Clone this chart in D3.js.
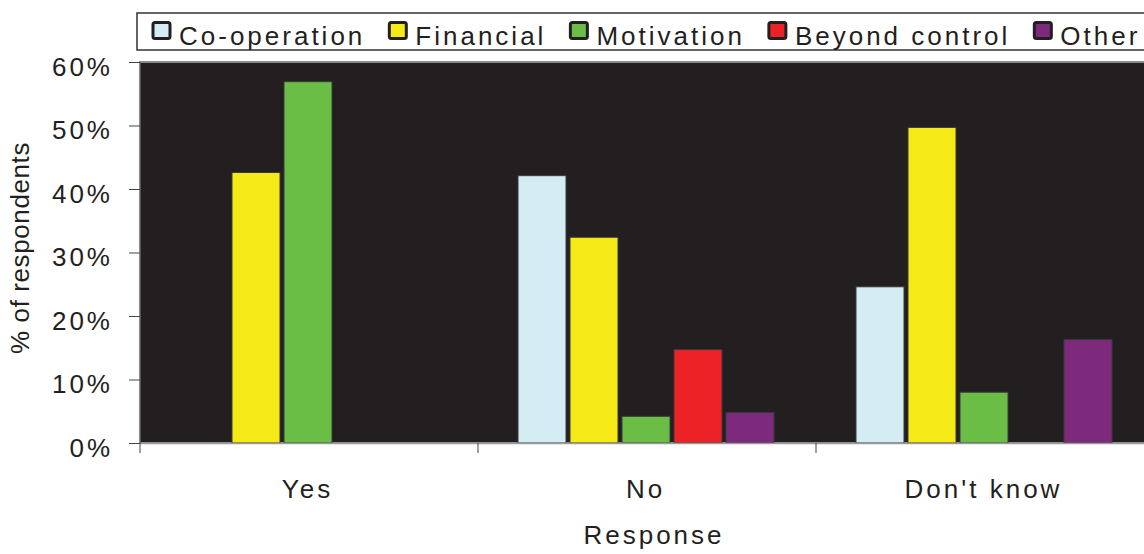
<!DOCTYPE html>
<html>
<head>
<meta charset="utf-8">
<script src="https://cdn.jsdelivr.net/npm/d3@7"></script>
<style>
  html, body { margin: 0; padding: 0; background: #ffffff; }
  svg { display: block; }
  text { font-family: "Liberation Sans", Arial, sans-serif; fill: #231f20; }
</style>
</head>
<body>
<svg id="chart" width="1144" height="554"></svg>
<script>
// ---- data ----
const categories = ["Yes", "No", "Don't know"];
const seriesNames = ["Co-operation", "Financial", "Motivation", "Beyond control", "Other"];
const cooperation   = [0, 42.1, 24.6];
const financial     = [42.6, 32.4, 49.7];
const motivation    = [56.9, 4.2, 8.0];
const beyondControl = [0, 14.7, 0];
const other         = [0, 4.8, 16.3];
const yTicks = [0, 10, 20, 30, 40, 50, 60];
const xTitle = "Response";
const yTitle = "% of respondents";
const colors = ["#d4ecf3", "#f5e916", "#6abd45", "#ec2227", "#7d2a7d"];

const seriesValues = [cooperation, financial, motivation, beyondControl, other];

// ---- layout ----
const svg = d3.select("#chart");
const plot = { left: 140, right: 1154, top: 62, bottom: 443 };

const x0 = d3.scaleBand().domain(categories).range([plot.left, plot.right]).padding(0);
const x1 = d3.scaleBand().domain(seriesNames).range([40, 296]).paddingInner(4 / 52).paddingOuter(0);
const y = d3.scaleLinear().domain([0, 60]).range([plot.bottom, plot.top]);

// plot background
svg.append("rect")
  .attr("x", plot.left).attr("y", plot.top)
  .attr("width", plot.right - plot.left).attr("height", plot.bottom - plot.top)
  .attr("fill", "#231f20").attr("stroke", "#8c8c8c").attr("stroke-width", 2);

// bars
const rows = [];
categories.forEach((c, ci) => {
  seriesNames.forEach((s, si) => {
    rows.push({ cat: c, series: s, si, value: seriesValues[si][ci] });
  });
});
svg.append("g").selectAll("rect")
  .data(rows.filter(d => d.value > 0))
  .join("rect")
  .attr("x", d => x0(d.cat) + x1(d.series))
  .attr("y", d => y(d.value))
  .attr("width", x1.bandwidth())
  .attr("height", d => y(0) - y(d.value))
  .attr("fill", d => colors[d.si])
  .attr("stroke", "#3a3a3a")
  .attr("stroke-width", 1);

// y axis
const yAxis = d3.axisLeft(y).tickValues(yTicks).tickSize(11).tickFormat(d => d + "%");
const yg = svg.append("g").attr("transform", `translate(${plot.left},0)`).call(yAxis);
yg.select(".domain").attr("stroke", "#555").attr("stroke-width", 1);
yg.selectAll(".tick line").attr("stroke", "#444");
yg.selectAll(".tick text")
  .attr("x", -27).attr("dy", null).attr("y", 13)
  .style("font-size", "26px").style("letter-spacing", "3px")
  .attr("fill", "#231f20").attr("font-family", null);

// x axis
const xAxis = d3.axisBottom(x0).tickSize(0).tickFormat("");
const xg = svg.append("g").attr("transform", `translate(0,${plot.bottom})`).call(xAxis);
xg.select(".domain").attr("stroke", "#9a9a9a").attr("stroke-width", 1.5);
// boundary ticks between categories
const bounds = categories.map(c => x0(c));
xg.selectAll("line.bound").data(bounds).join("line")
  .attr("class", "bound")
  .attr("x1", d => d).attr("x2", d => d)
  .attr("y1", 0).attr("y2", 10)
  .attr("stroke", "#444").attr("stroke-width", 1);
xg.selectAll("text.cat").data(categories).join("text")
  .attr("class", "cat")
  .attr("x", d => x0(d) + x0.bandwidth() / 2 - 1.5)
  .attr("y", 55)
  .attr("text-anchor", "middle")
  .style("font-size", "26px").style("letter-spacing", "3px")
  .text(d => d);

// axis titles
svg.append("text")
  .attr("x", 654).attr("y", 544)
  .attr("text-anchor", "middle")
  .style("font-size", "26px").style("letter-spacing", "3px")
  .text(xTitle);
svg.append("text")
  .attr("transform", "translate(29,248) rotate(-90)")
  .attr("text-anchor", "middle")
  .style("font-size", "26px").style("letter-spacing", "0.6px")
  .text(yTitle);

// legend
const lg = svg.append("g");
lg.append("rect")
  .attr("x", 137).attr("y", 13)
  .attr("width", 1154 - 137).attr("height", 37)
  .attr("fill", "#ffffff").attr("stroke", "#333").attr("stroke-width", 1.5);
let lx = 153;
seriesNames.forEach((s, i) => {
  lg.append("rect")
    .attr("x", lx).attr("y", 22.5)
    .attr("width", 17).attr("height", 16)
    .attr("rx", 2)
    .attr("fill", colors[i]).attr("stroke", "#231f20").attr("stroke-width", 3);
  const t = lg.append("text")
    .attr("x", lx + 26).attr("y", 45)
    .style("font-size", "26px").style("letter-spacing", "3px")
    .text(s);
  lx = lx + 26 + t.node().getComputedTextLength() + 24;
});
</script>
</body>
</html>
